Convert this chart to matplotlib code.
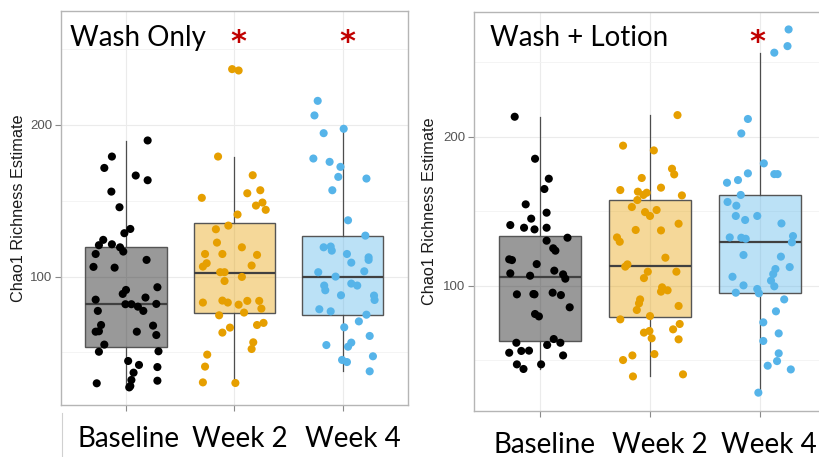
import matplotlib
matplotlib.use("Agg")
import matplotlib.pyplot as plt
import numpy as np
from matplotlib.transforms import ScaledTranslation, blended_transform_factory
from matplotlib.lines import Line2D

# ---------------- data ----------------
categories = ["Baseline", "Week 2", "Week 4"]
panel_titles = ["Wash Only", "Wash + Lotion"]
y_label = "Chao1 Richness Estimate"
y_ticks = [100, 200]

# Wash Only: values and jitter offsets
wo_base = [189.7, 179.1, 171.6, 166.6, 163.5, 156.0, 145.7, 131.4, 128.6, 124.2, 120.7, 121.3,
           119.3, 116.5, 114.9, 111.0, 106.4, 105.9, 91.2, 88.6, 93.0, 84.8, 86.2, 81.8, 81.8,
           80.2, 77.4, 82.0, 77.4, 68.1, 63.7, 64.0, 63.7, 67.7, 61.5, 55.2, 50.5, 50.8, 44.4,
           41.8, 36.7, 31.9, 27.9, 27.0, 29.7, 40.4, 31.4]
wo_base_jit = [0.20, -0.13, -0.20, 0.09, 0.20, -0.135, -0.06, 0.04, -0.015, -0.21, -0.25, -0.13,
               -0.055, -0.025, -0.28, 0.19, -0.30, -0.105, 0.0, -0.03, 0.29, -0.28, 0.18, -0.005,
               0.05, 0.11, 0.16, 0.28, -0.26, -0.23, -0.28, -0.25, 0.10, 0.25, 0.28, -0.20, -0.25,
               0.30, 0.02, 0.12, 0.07, 0.05, 0.04, 0.03, -0.27, 0.29, 0.29]
wo_w2 = [236.7, 235.8, 179.1, 166.8, 151.9, 154.9, 156.9, 148.8, 146.8, 144.0, 140.9, 133.6,
         131.2, 122.4, 119.3, 114.9, 114.9, 114.3, 108.8, 106.6, 107.3, 102.9, 102.9, 99.8, 97.1,
         82.9, 84.2, 82.9, 84.0, 81.5, 84.0, 78.9, 76.3, 74.5, 68.1, 69.5, 66.4, 63.1, 56.7,
         52.3, 48.6, 40.7, 30.3, 29.9]
wo_w2_jit = [-0.02, 0.04, -0.15, 0.17, -0.30, 0.12, 0.24, 0.26, 0.20, 0.29, 0.03, -0.055,
             -0.17, -0.16, 0.07, -0.27, -0.11, 0.21, -0.255, -0.29, 0.16, -0.13, -0.09, 0.07,
             -0.09, -0.29, -0.11, -0.06, 0.12, 0.04, 0.23, 0.25, 0.09, -0.14, 0.21, 0.27, -0.04,
             -0.11, 0.175, 0.16, -0.25, -0.27, -0.29, 0.01]
wo_w4 = [215.8, 206.2, 197.4, 194.5, 177.8, 175.6, 172.3, 165.7, 164.6, 156.9, 137.1, 127.0,
         119.3, 119.8, 117.1, 114.9, 112.7, 111.0, 109.2, 102.9, 103.5, 100.0, 95.4, 94.1, 94.1,
         91.0, 87.7, 87.5, 84.6, 78.5, 77.1, 74.9, 70.5, 66.6, 60.9, 54.9, 56.5, 53.8, 47.5,
         45.1, 43.7, 37.6]
wo_w4_jit = [-0.23, -0.26, 0.01, -0.175, -0.27, -0.12, -0.02, -0.04, 0.22, -0.095, 0.05, 0.21,
             -0.175, -0.11, -0.10, 0.04, 0.24, 0.24, 0.08, -0.225, 0.20, -0.065, 0.08, 0.135,
             -0.17, -0.16, -0.015, 0.29, 0.295, -0.215, -0.11, 0.22, 0.15, 0.015, 0.25, -0.15,
             0.08, 0.05, 0.28, -0.005, 0.04, 0.25]

# Wash + Lotion
wl_base = [213.4, 185.2, 171.8, 164.9, 154.6, 149.0, 145.0, 140.7, 138.9, 137.8, 138.9, 132.2,
           130.2, 125.1, 123.5, 117.7, 117.2, 114.5, 108.3, 106.7, 110.1, 107.6, 104.7, 94.2,
           94.4, 94.2, 95.3, 93.7, 85.5, 81.0, 79.4, 64.2, 61.7, 61.7, 60.2, 55.0, 56.2, 56.4,
           53.2, 47.2, 44.1, 47.2]
wl_base_jit = [-0.23, -0.045, 0.08, 0.04, -0.13, 0.06, -0.08, -0.27, -0.145, -0.05, 0.06, 0.25,
               0.06, 0.12, 0.14, -0.28, -0.255, -0.03, -0.27, -0.09, 0.13, 0.21, 0.23, -0.21,
               -0.06, -0.05, 0.115, 0.19, 0.27, -0.045, -0.01, 0.125, 0.185, -0.215, 0.065,
               -0.28, -0.17, -0.10, 0.21, -0.21, -0.15, 0.01]
wl_w2 = [214.5, 194.0, 190.8, 178.5, 174.7, 172.3, 165.8, 164.2, 163.1, 162.4, 160.9, 160.6,
         157.5, 152.8, 149.4, 150.8, 146.8, 141.6, 137.4, 137.1, 132.4, 129.5, 118.8, 112.8,
         114.3, 109.4, 109.4, 105.1, 98.9, 96.0, 96.9, 90.8, 88.1, 86.4, 83.7, 79.6, 77.4, 74.3,
         70.7, 68.5, 69.6, 64.7, 64.0, 54.1, 53.2, 50.1, 40.5, 39.1]
wl_w2_jit = [0.25, -0.245, 0.035, 0.20, 0.22, -0.075, 0.10, -0.27, -0.11, -0.03, -0.06, 0.29,
             -0.115, -0.165, -0.045, 0.06, 0.0, 0.26, -0.13, 0.10, -0.30, -0.275, 0.14, -0.225,
             -0.205, 0.24, -0.02, -0.055, 0.11, 0.10, 0.16, -0.09, -0.10, 0.26, -0.12, 0.0,
             -0.27, 0.27, 0.21, -0.055, -0.005, 0.015, 0.26, 0.04, -0.16, -0.245, 0.30, -0.155]
wl_w4 = [272.0, 260.8, 256.4, 211.9, 202.2, 182.1, 175.4, 174.9, 174.9, 170.9, 169.1, 160.9,
         156.2, 153.7, 146.8, 146.8, 144.1, 141.8, 133.3, 129.1, 132.4, 132.2, 131.5, 120.6,
         119.5, 112.5, 111.2, 107.8, 103.4, 106.0, 99.6, 100.2, 97.8, 95.3, 94.9, 90.8, 82.8,
         75.4, 68.0, 62.9, 54.6, 49.4, 46.3, 43.8, 28.2]
wl_w4_jit = [0.26, 0.25, 0.13, -0.11, -0.17, 0.035, -0.11, 0.13, 0.16, -0.20, -0.30, -0.175,
             -0.295, -0.215, -0.22, -0.025, -0.135, 0.195, 0.30, 0.29, -0.275, -0.17, -0.13,
             -0.15, 0.19, 0.27, 0.14, 0.12, 0.10, -0.25, 0.13, -0.15, -0.025, -0.22, -0.01,
             0.22, 0.145, 0.03, 0.17, 0.03, 0.17, 0.155, 0.07, 0.28, -0.015]

# Box statistics: whisker low, q1, median, q3, whisker high
wo_whislo = [27.0, 29.9, 37.6]
wo_q1 = [53.9, 75.8, 74.5]
wo_med = [82.0, 102.6, 100.0]
wo_q3 = [119.8, 135.6, 126.8]
wo_whishi = [189.5, 179.1, 197.4]

wl_whislo = [44.1, 39.1, 28.2]
wl_q1 = [63.1, 79.0, 95.3]
wl_med = [105.8, 113.2, 129.5]
wl_q3 = [133.6, 157.7, 161.1]
wl_whishi = [213.4, 214.5, 256.4]

significant = [[False, True, True], [False, False, True]]

# ---------------- style ----------------
W, H = 820, 457
point_colors = ["#000000", "#E69F00", "#56B4E9"]
box_alpha = 0.4
title_font = "Lato"
axis_font = "Liberation Sans"

fig = plt.figure(figsize=(W / 100, H / 100), dpi=100)
fig.patch.set_facecolor("white")


def px_rect(left, top, right, bottom):
    return [left / W, 1 - bottom / H, (right - left) / W, (bottom - top) / H]


panels = [
    dict(rect=px_rect(61, 11, 407.6, 405), ylim=(15.4, 275.0),
         groups=[(wo_base, wo_base_jit), (wo_w2, wo_w2_jit), (wo_w4, wo_w4_jit)],
         stats=(wo_whislo, wo_q1, wo_med, wo_q3, wo_whishi),
         title=panel_titles[0], title_px=(70, 46), label_x=19, label_y=208, xlab_pad=11,
         xlab_shift=[3, 6, 10], sig=significant[0], star_dx=0.04),
    dict(rect=px_rect(474, 11.7, 826, 410.7), ylim=(16.1, 283.9),
         groups=[(wl_base, wl_base_jit), (wl_w2, wl_w2_jit), (wl_w4, wl_w4_jit)],
         stats=(wl_whislo, wl_q1, wl_med, wl_q3, wl_whishi),
         title=panel_titles[1], title_px=(490, 46), label_x=430, label_y=211, xlab_pad=11.5,
         xlab_shift=[5, 10, 9], sig=significant[1], star_dx=-0.024),
]

for p in panels:
    ax = fig.add_axes(p["rect"])
    ax.set_facecolor("white")

    # boxes
    whislo, q1, med, q3, whishi = p["stats"]
    bstats = []
    for i in range(3):
        bstats.append(dict(whislo=whislo[i], q1=q1[i], med=med[i], q3=q3[i],
                           whishi=whishi[i], fliers=[]))
    bp = ax.bxp(bstats, positions=[1, 2, 3], widths=0.75, patch_artist=True,
                showcaps=False, showfliers=False, manage_ticks=False,
                whiskerprops=dict(color="#4D4D4D", lw=0.9),
                medianprops=dict(color="#404040", lw=1.6),
                boxprops=dict(edgecolor="#555555", lw=1.0))
    for patch, c in zip(bp["boxes"], point_colors):
        r, g, b = matplotlib.colors.to_rgb(c)
        patch.set_facecolor((r, g, b, box_alpha))
        patch.set_zorder(2)
    for ln in bp["whiskers"] + bp["medians"]:
        ln.set_zorder(2.5)

    # points
    for i, (vals, jit) in enumerate(p["groups"]):
        xs = (i + 1) + np.asarray(jit)
        ax.scatter(xs, vals, s=34, color=point_colors[i], edgecolors="none", zorder=3)

    ax.set_xlim(0.4, 3.6)
    ax.set_ylim(*p["ylim"])

    # grid
    ax.set_yticks(y_ticks)
    ax.set_yticks([50, 150, 250], minor=True)
    ax.set_xticks([1, 2, 3])
    ax.set_xticks([], minor=True)
    ax.grid(True, which="major", color="#EBEBEB", lw=0.8, zorder=0)
    ax.grid(True, which="minor", axis="y", color="#F2F2F2", lw=0.6, zorder=0)
    ax.set_axisbelow(True)

    for s in ax.spines.values():
        s.set_color("#B5B5B5")
        s.set_linewidth(1.0)

    # ticks
    ax.tick_params(axis="y", which="major", length=4, width=0.8, color="#8A8A8A",
                   labelsize=9.5, labelcolor="#555555", pad=2)
    ax.tick_params(axis="y", which="minor", length=0)
    ax.tick_params(axis="x", length=4, width=0.8, color="#8A8A8A", pad=p["xlab_pad"])
    for t in ax.get_yticklabels():
        t.set_fontfamily(axis_font)
    ax.set_xticklabels(categories, fontsize=20, fontfamily=title_font, color="black")
    for t, dx in zip(ax.get_xticklabels(), p["xlab_shift"]):
        t.set_transform(t.get_transform() + ScaledTranslation(dx / 100, 0, fig.dpi_scale_trans))

    # y label
    fig.text(p["label_x"] / W, 1 - p["label_y"] / H, y_label,
             rotation=90, ha="center", va="center", fontsize=11.7,
             fontfamily=axis_font, color="#1A1A1A")

    # title
    tx, ty = p["title_px"]
    fig.text(tx / W, 1 - ty / H, p["title"], ha="left", va="baseline",
             fontsize=20, fontfamily=title_font, color="black")

    # significance stars
    tr = blended_transform_factory(ax.transData, fig.transFigure)
    for i, flag in enumerate(p["sig"]):
        if flag:
            ax.text(i + 1 + p["star_dx"], 1 - 51 / H, "*", transform=tr, ha="center",
                    va="baseline", fontsize=22, fontweight="bold", color="#C00000",
                    fontfamily="DejaVu Sans", clip_on=False)

# thin edge line under left panel (text box edge)
fig.add_artist(Line2D([62 / W, 62 / W], [0, 1 - 413 / H], color="#D0D0D0", lw=0.8,
                      transform=fig.transFigure))

fig.savefig("out.png", dpi=100)
